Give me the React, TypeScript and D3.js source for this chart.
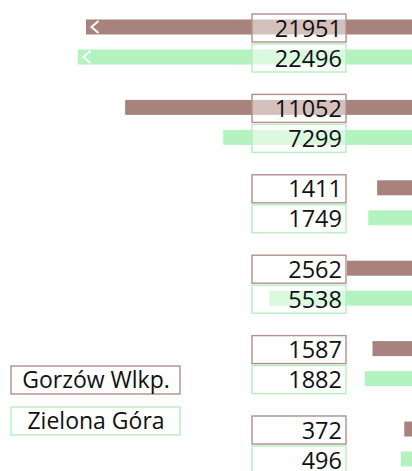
import React from "react";
import * as d3 from "d3";

const categories = ["A", "B", "C", "D", "E", "F"];
const seriesNames = ["Gorzów Wlkp.", "Zielona Góra"];
const gorzowValues = [21951, 11052, 1411, 2562, 1587, 372];
const zielonaValues = [22496, 7299, 1749, 5538, 1882, 496];
const seriesClipMax = [12550, 12860];
const seriesColors = ["#a8827d", "#b4f2bf"];
const seriesStroke = ["#b38f8c", "#b5efbf"];

const W = 412;
const H = 471;
const FONT = "'Open Sans', sans-serif";

export default function App() {
  const x = d3.scaleLinear().domain([0, 12550]).range([414, 86]);
  const y = d3
    .scaleLinear()
    .domain([0, categories.length - 1])
    .range([14, 14 + 80.4 * (categories.length - 1)]);
  const series = [gorzowValues, zielonaValues];
  const boxH = 28;
  const barH = 15;
  const boxX0 = 252;
  const boxX1 = 346;

  return (
    <svg
      width={W}
      height={H}
      style={{ position: "absolute", left: 0, top: 0 }}
      fontFamily={FONT}
    >
      <rect width={W} height={H} fill="#fff" />
      {categories.map((c, i) => (
        <g key={c}>
          {series.map((vals, s) => {
            const v = vals[i];
            const clipped = v > seriesClipMax[s];
            const left = x(Math.min(v, seriesClipMax[s]));
            const boxTop = y(i) + s * 30;
            const barTop = boxTop + boxH / 2 - 1 - barH / 2;
            return (
              <g key={s}>
                <rect
                  x={left}
                  y={barTop}
                  width={x(0) - left}
                  height={barH}
                  fill={seriesColors[s]}
                />
                {clipped && (
                  <polyline
                    points={`${left + 12.5},${barTop + 1.5} ${left + 5.5},${
                      barTop + barH / 2
                    } ${left + 12.5},${barTop + barH - 1.5}`}
                    fill="none"
                    stroke="#fff"
                    strokeWidth={2}
                  />
                )}
                <rect
                  x={boxX0}
                  y={boxTop}
                  width={boxX1 - boxX0}
                  height={boxH}
                  fill="#fff"
                  fillOpacity={0.5}
                  stroke={seriesStroke[s]}
                  strokeWidth={1.4}
                />
                <text
                  x={boxX1 - 4}
                  y={boxTop + 22.5}
                  textAnchor="end"
                  fontSize={23.5}
                  fill="#111"
                >
                  {v}
                </text>
              </g>
            );
          })}
        </g>
      ))}
      {seriesNames.map((n, s) => (
        <g key={n}>
          <rect
            x={11}
            y={366 + s * 41}
            width={169}
            height={28}
            fill="#fff"
            stroke={seriesStroke[s]}
            strokeWidth={1.4}
          />
          <text
            x={96}
            y={366 + s * 41 + 22}
            textAnchor="middle"
            fontSize={23}
            fill="#111"
          >
            {n}
          </text>
        </g>
      ))}
    </svg>
  );
}
